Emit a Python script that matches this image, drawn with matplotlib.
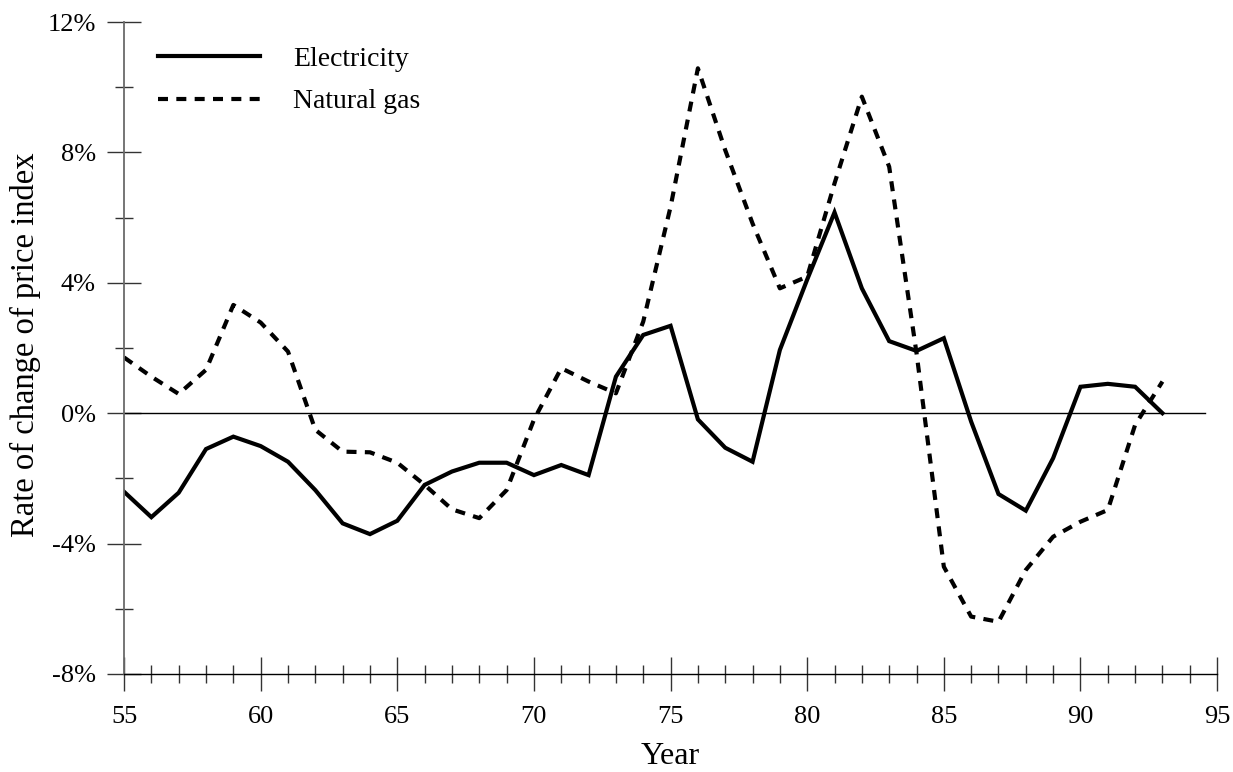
import matplotlib
matplotlib.use("Agg")
import matplotlib.pyplot as plt
from matplotlib.ticker import MultipleLocator, FuncFormatter

years = list(range(55, 94))
electricity = [-2.41, -3.19, -2.44, -1.10, -0.72, -1.01, -1.49, -2.36, -3.38, -3.71,
               -3.30, -2.20, -1.79, -1.52, -1.52, -1.90, -1.59, -1.90, 1.12, 2.40,
               2.68, -0.19, -1.06, -1.49, 1.94, 4.10, 6.16, 3.83, 2.21, 1.91,
               2.30, -0.26, -2.48, -2.99, -1.38, 0.81, 0.90, 0.81, 0.00]
natural_gas = [1.71, 1.12, 0.59, 1.33, 3.32, 2.78, 1.89, -0.51, -1.18, -1.20,
               -1.52, -2.20, -2.95, -3.22, -2.36, -0.20, 1.38, 0.97, 0.61, 2.81,
               6.33, 10.58, 8.07, 5.82, 3.83, 4.19, 7.05, 9.71, 7.56, 1.85,
               -4.71, -6.24, -6.40, -4.81, -3.79, -3.33, -2.97, -0.36, 0.97]
series_labels = ["Electricity", "Natural gas"]

plt.rcParams['font.family'] = ['Liberation Serif', 'DejaVu Serif']
plt.rcParams['font.size'] = 19

fig = plt.figure(figsize=(12.33, 7.72), dpi=100)
ax = fig.add_axes([0.1006, 0.127, 0.8865, 0.8445])

ax.plot(years, electricity, color='black', lw=3.0, solid_joinstyle='miter',
        label=series_labels[0])
ax.plot(years, natural_gas, color='black', lw=3.0, linestyle=(0, (2.4, 2.0)),
        label=series_labels[1])
ax.axhline(0, xmin=0, xmax=0.989, color='black', lw=1.0)

ax.set_xlim(55, 95)
ax.set_ylim(-8, 12)
ax.xaxis.set_major_locator(MultipleLocator(5))
ax.xaxis.set_minor_locator(MultipleLocator(1))
ax.yaxis.set_major_locator(MultipleLocator(4))
ax.yaxis.set_minor_locator(MultipleLocator(2))
ax.yaxis.set_major_formatter(FuncFormatter(lambda v, p: f"{v:.0f}%"))

for s in ['top', 'right']:
    ax.spines[s].set_visible(False)
ax.spines['left'].set_color('#6a6a6a')
ax.spines['left'].set_linewidth(1.3)
ax.spines['bottom'].set_color('black')
ax.spines['bottom'].set_linewidth(1.0)

ax.tick_params(axis='both', which='major', direction='inout', length=24.5,
               width=1.0, pad=8, labelsize=19, color='#333333')
ax.tick_params(axis='x', which='major', pad=11)
ax.tick_params(axis='both', which='minor', direction='inout', length=12.5,
               width=1.0, color='#333333')

ax.set_xlabel("Year", fontsize=23)
ax.xaxis.set_label_coords(0.5, -0.104)
ax.set_ylabel("Rate of change of price index", fontsize=23.5)
ax.yaxis.set_label_coords(-0.0906, 0.505)
ax.yaxis.label.set_va('center')

leg = ax.legend(loc='upper left', bbox_to_anchor=(0.031, 0.962), frameon=False,
                handlelength=3.67, handletextpad=1.19, labelspacing=0.6,
                borderaxespad=0, borderpad=0, fontsize=20)

fig.savefig("out.png", dpi=100)
